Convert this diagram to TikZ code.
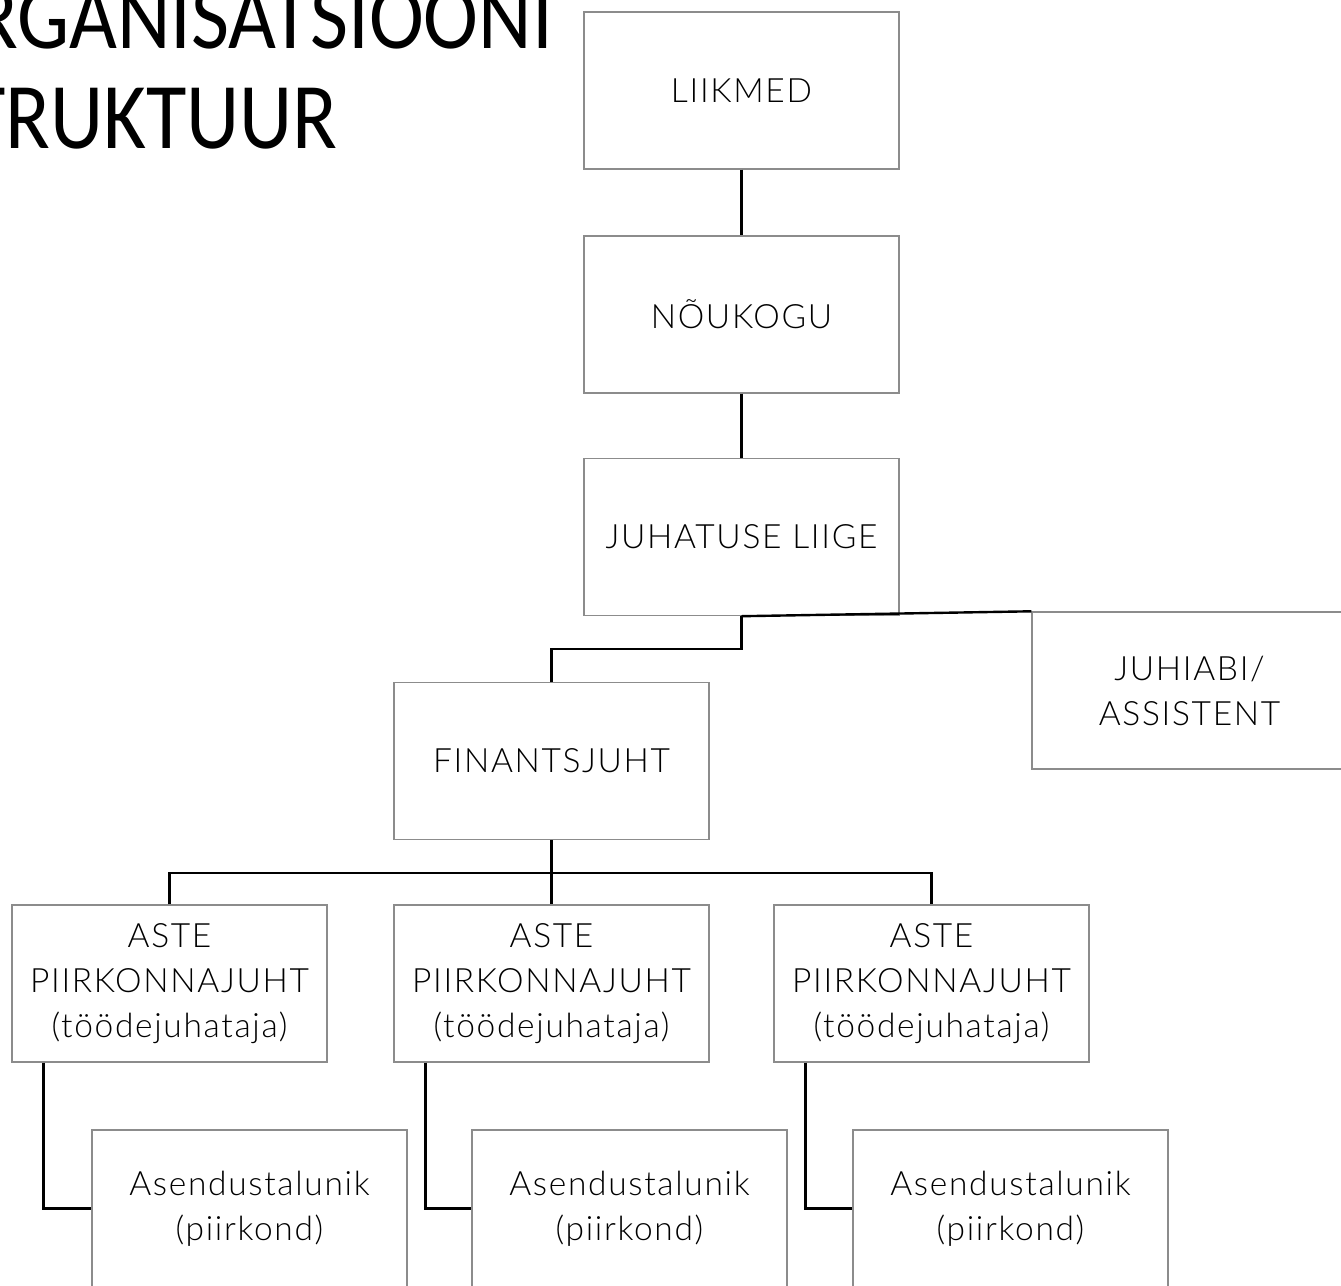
\documentclass[tikz,border=0pt]{standalone}
\usepackage{fontspec}
\setmainfont{Lato Light}[LetterSpace=5]
\newfontfamily\titlefont{Carlito}[FakeStretch=0.88]
\begin{document}
\begin{tikzpicture}[x=1pt,y=-1pt,
  box/.style={draw=black!45, line width=1.4pt, fill=white, minimum width=315pt, minimum height=157pt, inner sep=0pt, align=center, font=\fontsize{33.5}{45}\selectfont},
  conn/.style={draw=black, line width=2.4pt},
  ttl/.style={anchor=base east, inner sep=0pt, font=\titlefont\fontsize{94}{100}\selectfont}]
\useasboundingbox (0,0) rectangle (1341,1285);
\clip (0,0) rectangle (1341,1285);
\fill[white] (0,0) rectangle (1341,1285);
% title
\node[ttl] (t1) at (553,48) {RGANISATSIOONI};
\node[ttl] (t2) at (338,148) {TRUKTUUR};
% boxes
\node[box] (li) at (741.5,90.5) {LIIKMED};
\node[box] (no) at (741.5,314.5) {NÕUKOGU};
\node[box] (jl) at (741.5,537) {JUHATUSE LIIGE};
\node[box] (ja) at (1189.5,690.5) {JUHIABI/\\ASSISTENT};
\node[box] (fj) at (551.5,761) {FINANTSJUHT};
\node[box] (a1) at (169.5,983.5) {ASTE\\PIIRKONNAJUHT\\(töödejuhataja)};
\node[box] (a2) at (551.5,983.5) {ASTE\\PIIRKONNAJUHT\\(töödejuhataja)};
\node[box] (a3) at (931.5,983.5) {ASTE\\PIIRKONNAJUHT\\(töödejuhataja)};
\node[box] (s1) at (249.5,1208.5) {Asendustalunik\\(piirkond)};
\node[box] (s2) at (629.5,1208.5) {Asendustalunik\\(piirkond)};
\node[box] (s3) at (1010.5,1208.5) {Asendustalunik\\(piirkond)};
% connectors
\draw[conn] (li.south) -- (no.north);
\draw[conn] (no.south) -- (jl.north);
\draw[conn] (jl.south) -- (jl.south |- 0,649) -| (fj.north);
\draw[conn] (jl.south) -- (ja.north west);
\draw[conn] (fj.south) -- (a2.north);
\draw[conn] (a1.north) -- (a1.north |- 0,873) -- (a3.north |- 0,873) -- (a3.north);
\draw[conn] ([xshift=32pt]a1.south west) |- (s1.west);
\draw[conn] ([xshift=32pt]a2.south west) |- (s2.west);
\draw[conn] ([xshift=32pt]a3.south west) |- (s3.west);
\end{tikzpicture}
\end{document}
